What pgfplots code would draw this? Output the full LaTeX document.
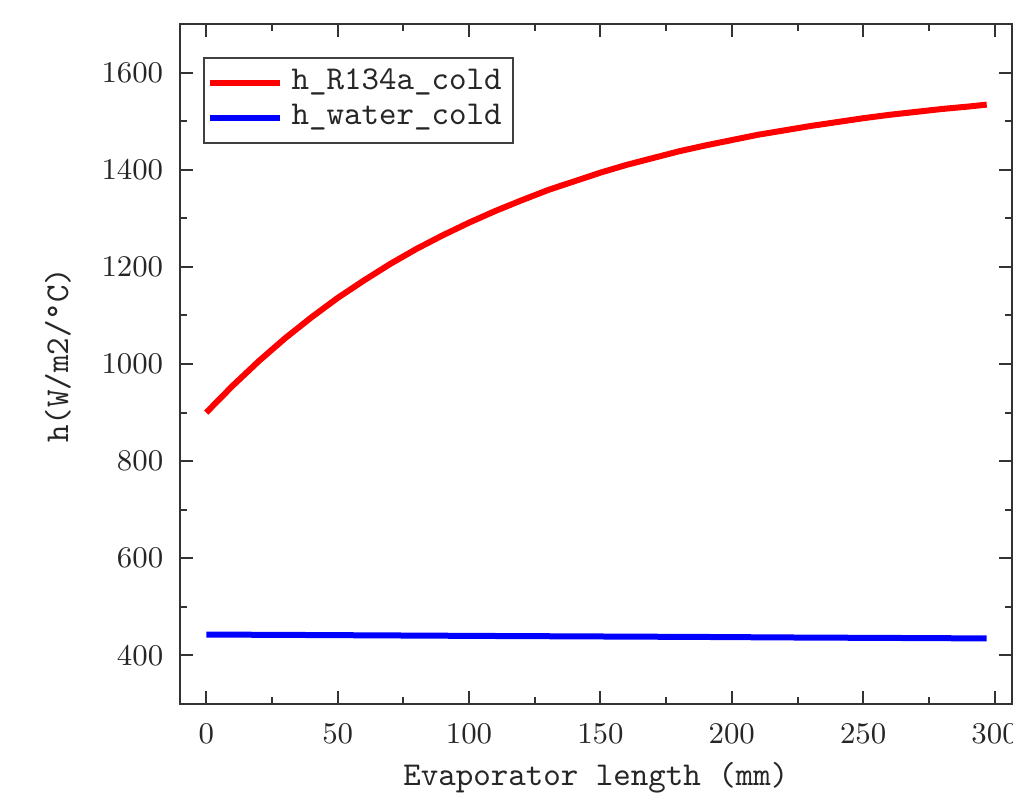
\documentclass[border=0pt]{standalone}
\usepackage{pgfplots}
\pgfplotsset{compat=1.18}

\begin{document}
\begin{tikzpicture}
\begin{axis}[
	at={(0pt,0pt)}, anchor=south west,
	scale only axis,
	width=249.5pt, height=204pt,
	xmin=-10, xmax=306.5,
	ymin=300, ymax=1700,
	xtick={0,50,100,150,200,250,300},
	ytick={400,600,800,1000,1200,1400,1600},
	/pgf/number format/1000 sep={},
	minor x tick num=1,
	minor y tick num=1,
	tick align=inside,
	major tick length=3.8pt,
	minor tick length=2pt,
	axis line style={black!80, line width=0.6pt},
	every tick/.style={black!80, line width=0.6pt},
	tick label style={font=\fontsize{9.3}{10}\selectfont, black!85},
	xticklabel style={yshift=-2.5pt},
	yticklabel style={xshift=-1.5pt},
	xlabel={Evaporator length (mm)},
	ylabel={h(W/m2/\textdegree C)},
	label style={font=\ttfamily\fontsize{10}{12}\selectfont, black!85},
	xlabel style={at={(axis description cs:0.5,-0.1088)}, anchor=center},
	ylabel style={at={(axis description cs:-0.1467,0.513)}, anchor=center},
	legend cell align=left,
	legend style={
		at={(axis description cs:0.0277,0.9515)}, anchor=north west,
		draw=black!75, line width=0.6pt,
		inner xsep=1pt, inner ysep=2.25pt,
		row sep=0pt,
		font=\ttfamily\fontsize{10}{12}\selectfont,
		nodes={inner xsep=2.5pt, inner ysep=0.75pt, text height=6.5pt, text depth=2.5pt, text=black!85},
	},
	legend image code/.code={\draw[#1, line width=1.8pt] (0pt,0pt) -- (21pt,0pt);},
]
\addplot[color=red, line width=1.8pt] coordinates {
(0,900)(10,955)(20,1006)(30,1053)(40,1096)(50,1136)(60,1172)(70,1206)
(80,1237)(90,1265)(100,1291)(110,1315)(120,1337)(130,1358)(140,1376)
(150,1394)(160,1410)(170,1424)(180,1438)(190,1450)(200,1461)(210,1472)
(220,1481)(230,1490)(240,1498)(250,1506)(260,1513)(270,1519)(280,1525)
(290,1530)(297,1534)};
\addlegendentry{h\_R134a\_cold}
\addplot[color=blue, line width=1.8pt] coordinates {
(0,443)(40,442)(75,441)(110,440)(150,439)(190,438)(220,437)(260,436)(297,435)};
\addlegendentry{h\_water\_cold}
\end{axis}
\pgfresetboundingbox
\path (-54pt,-28.8pt) rectangle (249.9pt,211.2pt);
\end{tikzpicture}
\end{document}
